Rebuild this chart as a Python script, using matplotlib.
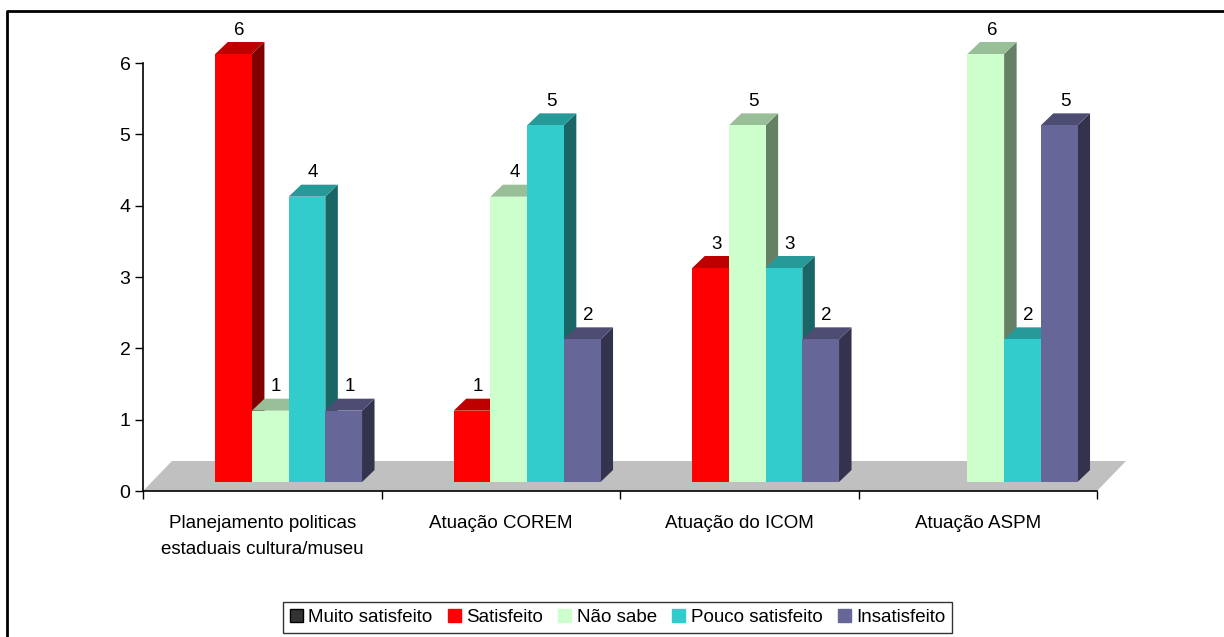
import numpy as np
import matplotlib.pyplot as plt
from matplotlib.patches import Polygon, Patch
from matplotlib.lines import Line2D
from matplotlib.colors import to_rgb

categories = ["Planejamento politicas\nestaduais cultura/museu", "Atuação COREM",
              "Atuação do ICOM", "Atuação ASPM"]
series = ["Muito satisfeito", "Satisfeito", "Não sabe", "Pouco satisfeito", "Insatisfeito"]
muito_satisfeito = [0, 0, 0, 0]
satisfeito = [6, 1, 3, 0]
nao_sabe = [1, 4, 5, 6]
pouco_satisfeito = [4, 5, 3, 2]
insatisfeito = [1, 2, 2, 5]
values = [muito_satisfeito, satisfeito, nao_sabe, pouco_satisfeito, insatisfeito]
colors = ["#333333", "#FF0000", "#CCFFCC", "#33CCCC", "#666699"]

plt.rcParams['font.family'] = ['Liberation Sans', 'DejaVu Sans']
FS = 13.5

fig = plt.figure(figsize=(12.24, 6.37), dpi=100)
ax = fig.add_axes([143 / 1224, 1 - 491 / 637, 954 / 1224, 6.7 * 71.33 / 637])
ax.set_xlim(0, 4)
ax.set_ylim(0, 6.7)

# pixel -> data scale for the fake 3d look
px_x = 954 / 4
px_y = 71.33
bar_w = 36.7 / px_x
group_left = 0.149
lift = 9 / px_y
ddx, ddy = 12.5 / px_x, 12 / px_y
floor_dx, floor_dy = 29 / px_x, 30 / px_y


def shade(c, f):
    return tuple(np.array(to_rgb(c)) * f)


# floor
ax.add_patch(Polygon([(0, 0), (4, 0), (4 + floor_dx, floor_dy), (floor_dx, floor_dy)],
                     closed=True, facecolor="#C0C0C0", edgecolor="none", zorder=1, clip_on=False))

for j, (vals, c) in enumerate(zip(values, colors)):
    z = 3 + j * 0.1
    for i, v in enumerate(vals):
        if v <= 0:
            continue
        x0 = i + group_left + j * bar_w
        y0 = lift
        top = y0 + v
        ax.add_patch(Polygon([(x0 + bar_w, y0), (x0 + bar_w + ddx, y0 + ddy),
                              (x0 + bar_w + ddx, top + ddy), (x0 + bar_w, top)],
                             closed=True, facecolor=shade(c, 0.5), edgecolor="none", zorder=z))
        ax.add_patch(Polygon([(x0, top), (x0 + bar_w, top), (x0 + bar_w + ddx, top + ddy),
                              (x0 + ddx, top + ddy)],
                             closed=True, facecolor=shade(c, 0.75), edgecolor="none", zorder=z))
        ax.bar(x0, v, width=bar_w, bottom=y0, align="edge", color=c, zorder=z + 0.05)
        ax.text(x0 + bar_w / 2 + 6 / px_x, top + 24 / px_y, str(v), ha="center", va="center",
                fontsize=FS, zorder=10)

for s in ["top", "right"]:
    ax.spines[s].set_visible(False)
ax.spines["left"].set_bounds(0, 6)
ax.spines["left"].set_linewidth(1.2)
ax.spines["bottom"].set_linewidth(1.2)
ax.spines["left"].set_zorder(6)
ax.spines["bottom"].set_zorder(6)

ax.set_yticks(range(7))
ax.set_yticklabels([str(k) for k in range(7)], fontsize=FS + 0.5)
ax.tick_params(axis="y", length=6, width=1, pad=3)
ax.set_xticks([0, 1, 2, 3, 4])
ax.set_xticklabels([])
ax.tick_params(axis="x", which="major", length=6, width=1)
ax.set_xticks([0.5, 1.5, 2.5, 3.5], minor=True)
ax.set_xticklabels(categories, minor=True, fontsize=FS, linespacing=1.7)
ax.tick_params(axis="x", which="minor", length=0, pad=17)

handles = [Patch(facecolor=c, edgecolor="black" if k == 0 else c) for k, c in enumerate(colors)]
leg = fig.legend(handles, series, loc="center", bbox_to_anchor=(617.5 / 1224, 1 - 617.5 / 637),
                 ncol=5, frameon=True, fancybox=False, edgecolor="black", fontsize=FS,
                 handlelength=0.7, handleheight=0.7, handletextpad=0.3, columnspacing=0.8,
                 borderpad=0.35, borderaxespad=0)
leg.get_frame().set_linewidth(1)

# outer chart border (cropped on the right and bottom)
fig.add_artist(Line2D([7 / 1224, 7 / 1224, 1], [0, 1 - 11 / 637, 1 - 11 / 637],
                      transform=fig.transFigure, color="black", lw=2))

fig.savefig("out.png", dpi=100)
